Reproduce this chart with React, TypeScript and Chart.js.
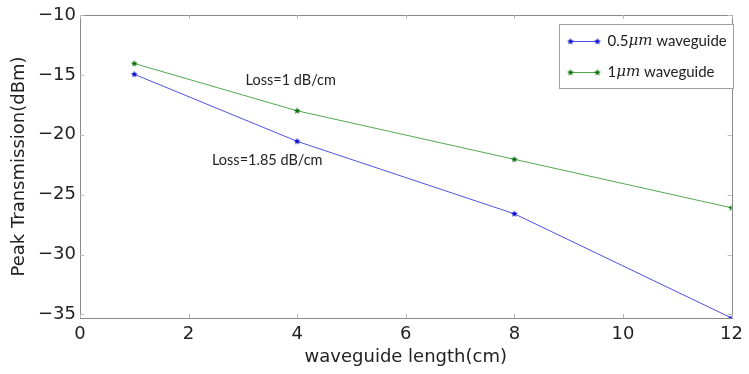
import React, { useEffect, useRef } from 'react';
import { Chart, registerables } from 'chart.js';

Chart.register(...registerables);

// ---- data ----
const lengths = [1, 4, 8, 12];
const wg05 = [-14.95, -20.55, -26.6, -35.3];
const wg1 = [-14.05, -18.0, -22.05, -26.1];
const xTickValues = [0, 2, 4, 6, 8, 10, 12];
const yTickValues = [-35, -30, -25, -20, -15, -10];
const legendPrefixes = ['0.5', '1'];
const legendSuffix = ' waveguide';
const annotationTexts = ['Loss=1 dB/cm', 'Loss=1.85 dB/cm'];
const annotationX = [3.05, 2.43];
const annotationY = [-15.45, -22.1];

const BLUE = '#0000d0';
const GREEN = '#006a00';
const BLUE_LINE = 'rgba(50,50,225,0.85)';
const GREEN_LINE = 'rgba(40,145,40,0.8)';

function makeStar(color: string, r: number): HTMLCanvasElement {
  const c = document.createElement('canvas');
  const s = Math.ceil(r * 2 + 2);
  c.width = s;
  c.height = s;
  const ctx = c.getContext('2d')!;
  const cx = s / 2, cy = s / 2;
  ctx.beginPath();
  for (let i = 0; i < 10; i++) {
    const rad = i % 2 === 0 ? r : r * 0.42;
    const a = -Math.PI / 2 + (i * Math.PI) / 5;
    const px = cx + rad * Math.cos(a);
    const py = cy + rad * Math.sin(a);
    if (i === 0) ctx.moveTo(px, py); else ctx.lineTo(px, py);
  }
  ctx.closePath();
  ctx.fillStyle = color;
  ctx.fill();
  return c;
}

const framePlugin = {
  id: 'framePlugin',
  afterDraw(chart: any) {
    const { ctx, chartArea: a, scales } = chart;
    const xs = scales.x, ys = scales.y;
    ctx.save();
    // frame
    ctx.strokeStyle = '#8a8a8a';
    ctx.lineWidth = 1;
    ctx.strokeRect(Math.round(a.left) + 0.5, Math.round(a.top) + 0.5, Math.round(a.right - a.left), Math.round(a.bottom - a.top));
    // inward ticks
    ctx.strokeStyle = '#b8b8b8';
    ctx.beginPath();
    xTickValues.forEach((v) => {
      const px = Math.round(xs.getPixelForValue(v)) + 0.5;
      ctx.moveTo(px, a.bottom); ctx.lineTo(px, a.bottom - 4);
      ctx.moveTo(px, a.top); ctx.lineTo(px, a.top + 4);
    });
    yTickValues.forEach((v) => {
      const py = Math.round(ys.getPixelForValue(v)) + 0.5;
      ctx.moveTo(a.left, py); ctx.lineTo(a.left + 4, py);
      ctx.moveTo(a.right, py); ctx.lineTo(a.right - 4, py);
    });
    ctx.stroke();

    // annotations
    ctx.fillStyle = '#222';
    ctx.font = '14.5px Lato, "Open Sans", sans-serif';
    ctx.textBaseline = 'middle';
    ctx.textAlign = 'left';
    annotationTexts.forEach((t, i) => {
      ctx.fillText(t, xs.getPixelForValue(annotationX[i]), ys.getPixelForValue(annotationY[i]));
    });

    // legend
    const bw = 174, bh = 64;
    const bx = Math.round(a.right - bw + 1) + 0.5;
    const by = Math.round(a.top + 9) + 0.5;
    ctx.fillStyle = '#fff';
    ctx.fillRect(bx, by, bw, bh);
    ctx.strokeStyle = '#a0a0a0';
    ctx.strokeRect(bx, by, bw, bh);
    const ds = chart.data.datasets;
    ds.forEach((d: any, i: number) => {
      const ly = by + 17 + i * 31;
      const x1 = bx + 11, x2 = bx + 38;
      ctx.strokeStyle = d.borderColor;
      ctx.lineWidth = 1;
      ctx.beginPath();
      ctx.moveTo(x1, ly); ctx.lineTo(x2, ly);
      ctx.stroke();
      const img = d.pointStyle as HTMLCanvasElement;
      ctx.drawImage(img, x1 - img.width / 2, ly - img.height / 2);
      ctx.drawImage(img, x2 - img.width / 2, ly - img.height / 2);
      let tx = bx + 48;
      ctx.fillStyle = '#222';
      ctx.textBaseline = 'middle';
      ctx.font = '15px Lato, "Open Sans", sans-serif';
      ctx.fillText(legendPrefixes[i], tx, ly);
      tx += ctx.measureText(legendPrefixes[i]).width;
      ctx.font = 'italic 15px "DejaVu Serif", serif';
      ctx.fillText('\u03bcm', tx, ly);
      tx += ctx.measureText('\u03bcm').width;
      ctx.font = '15px Lato, "Open Sans", sans-serif';
      ctx.fillText(legendSuffix, tx, ly);
    });
    ctx.restore();
  },
};

export default function App() {
  const ref = useRef<HTMLCanvasElement>(null);
  useEffect(() => {
    document.body.style.margin = '0';
    const blueStar = makeStar(BLUE, 3.6);
    const greenStar = makeStar(GREEN, 3.6);
    const chart = new Chart(ref.current!, {
      type: 'line',
      data: {
        datasets: [
          {
            label: '0.5\u03bcm waveguide',
            data: lengths.map((x, i) => ({ x, y: wg05[i] })),
            borderColor: BLUE_LINE,
            backgroundColor: BLUE,
            borderWidth: 1,
            pointStyle: blueStar as any,
            pointRadius: 4,
            tension: 0,
          },
          {
            label: '1\u03bcm waveguide',
            data: lengths.map((x, i) => ({ x, y: wg1[i] })),
            borderColor: GREEN_LINE,
            backgroundColor: GREEN,
            borderWidth: 1,
            pointStyle: greenStar as any,
            pointRadius: 4,
            tension: 0,
          },
        ],
      },
      options: {
        animation: false,
        responsive: false,
        layout: { padding: { top: 15, right: 12, left: 0, bottom: 0 } },
        plugins: { legend: { display: false }, tooltip: { enabled: false } },
        scales: {
          x: {
            type: 'linear',
            min: 0,
            max: 12,
            grid: { display: false, drawTicks: false, tickLength: 0 },
            border: { display: false },
            afterBuildTicks: (s: any) => { s.ticks = xTickValues.map((v) => ({ value: v })); },
            afterFit: (s: any) => { s.height = 56; },
            ticks: {
              color: '#222',
              padding: 6,
              font: { family: '"DejaVu Sans"', size: 18 },
              maxRotation: 0,
              autoSkip: false,
            },
            title: {
              display: true,
              text: 'waveguide length(cm)',
              color: '#222',
              font: { family: '"DejaVu Sans"', size: 18 },
              padding: { top: 0, bottom: 6 },
            },
          },
          y: {
            type: 'linear',
            min: -35.3,
            max: -10,
            grid: { display: false, drawTicks: false, tickLength: 0 },
            border: { display: false },
            afterBuildTicks: (s: any) => { s.ticks = yTickValues.map((v) => ({ value: v })); },
            afterFit: (s: any) => { s.width = 80; },
            ticks: {
              color: '#222',
              padding: 4,
              font: { family: '"DejaVu Sans"', size: 18 },
              callback: (v: any) => String(v).replace('-', '\u2212'),
              autoSkip: false,
            },
            title: {
              display: true,
              text: 'Peak Transmission(dBm)',
              color: '#222',
              font: { family: '"DejaVu Sans"', size: 18 },
              padding: { top: 9, bottom: 0 },
            },
          },
        },
      },
      plugins: [framePlugin],
    });
    return () => chart.destroy();
  }, []);
  return <canvas ref={ref} width={749} height={374} style={{ display: 'block' }} />;
}
